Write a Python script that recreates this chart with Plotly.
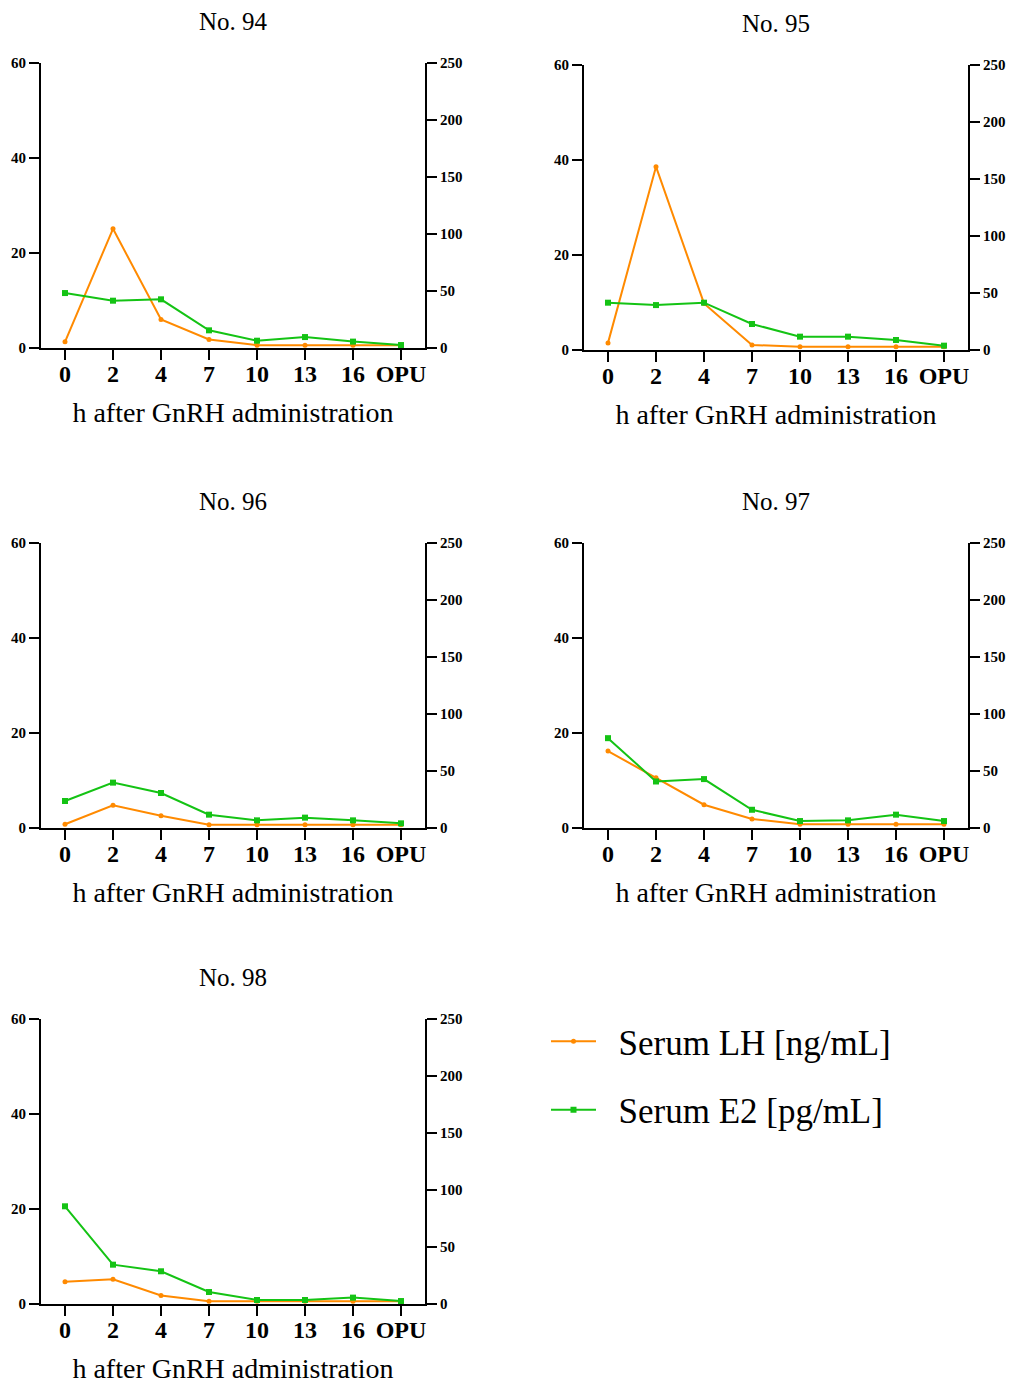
import plotly.graph_objects as go

categories = ["0", "2", "4", "7", "10", "13", "16", "OPU"]
panel_titles = ["No. 94", "No. 95", "No. 96", "No. 97", "No. 98"]

lh_94 = [1.3, 25.1, 6.0, 1.8, 0.6, 0.6, 0.6, 0.6]
e2_94 = [48.2, 41.5, 42.7, 15.5, 6.4, 9.6, 5.6, 2.6]
lh_95 = [1.5, 38.6, 9.8, 1.05, 0.7, 0.7, 0.7, 0.7]
e2_95 = [41.5, 39.4, 41.5, 22.8, 11.7, 11.7, 8.8, 3.8]
lh_96 = [0.8, 4.8, 2.6, 0.7, 0.7, 0.7, 0.7, 0.7]
e2_96 = [23.7, 39.8, 30.7, 11.7, 6.7, 9.1, 6.7, 4.1]
lh_97 = [16.2, 10.6, 4.9, 1.9, 0.8, 0.8, 0.8, 0.8]
e2_97 = [78.8, 40.8, 42.9, 16.0, 6.1, 6.7, 11.7, 6.1]
lh_98 = [4.7, 5.2, 1.8, 0.6, 0.6, 0.6, 0.6, 0.6]
e2_98 = [85.7, 34.5, 28.7, 10.5, 3.5, 3.5, 5.6, 2.6]

lh_sets = [lh_94, lh_95, lh_96, lh_97, lh_98]
e2_sets = [e2_94, e2_95, e2_96, e2_97, e2_98]

lh_ticks = [0, 20, 40, 60]
e2_ticks = [0, 50, 100, 150, 200, 250]

OFF = 8  # page body margin
W, H = 1019 - OFF, 1385 - OFF
ORANGE = "#FF8A00"
GREEN = "#14C314"
FONT = "Liberation Serif"
PAD = "\u00a0\u00a0"


def px_x(p):
    return (p - OFF) / W


def px_y(p):
    return 1 - (p - OFF) / H


# plot-area boxes in reference pixels: (left, right, top, bottom)
boxes = [
    (41, 425, 63, 348),
    (584, 968, 65, 350),
    (41, 425, 543, 828),
    (584, 968, 543, 828),
    (41, 425, 1019, 1304),
]

fig = go.Figure()
layout = dict(
    width=W, height=H,
    margin=dict(l=0, r=0, t=0, b=0, autoexpand=False),
    paper_bgcolor="white", plot_bgcolor="white",
    font=dict(family=FONT, color="black"),
    showlegend=True,
    legend=dict(
        x=px_x(546), y=px_y(1012), xanchor="left", yanchor="top",
        font=dict(family=FONT, size=35, color="black"),
        bgcolor="rgba(0,0,0,0)", tracegroupgap=20, traceorder="grouped",
        itemwidth=45,
    ),
)
annotations = []

for i, (box, lh, e2, title) in enumerate(zip(boxes, lh_sets, e2_sets, panel_titles)):
    l, r, t, b = box
    n = i + 1
    xa = "x" if n == 1 else f"x{n}"
    ya_l = "y" if n == 1 else f"y{n}"
    ya_r = f"y{n + 5}"
    xdom = [px_x(l), px_x(r)]
    ydom = [px_y(b), px_y(t)]

    fig.add_trace(go.Scatter(
        x=categories, y=lh, mode="lines+markers", name=PAD + "Serum LH [ng/mL]",
        line=dict(color=ORANGE, width=2), marker=dict(symbol="circle", size=5, color=ORANGE),
        xaxis=xa, yaxis=ya_l, showlegend=(n == 1), legendgroup="lh",
    ))
    fig.add_trace(go.Scatter(
        x=categories, y=e2, mode="lines+markers", name=PAD + "Serum E2 [pg/mL]",
        line=dict(color=GREEN, width=2), marker=dict(symbol="square", size=6, color=GREEN),
        xaxis=xa, yaxis=ya_r, showlegend=(n == 1), legendgroup="e2",
    ))

    xkey = "xaxis" if n == 1 else f"xaxis{n}"
    layout[xkey] = dict(
        domain=xdom, anchor=ya_l, type="category", categoryorder="array",
        categoryarray=categories, range=[-0.5, 7.5], automargin=False,
        showline=True, linecolor="black", linewidth=2,
        ticks="outside", ticklen=10, tickwidth=2, tickcolor="black",
        ticklabelstandoff=-7,
        showgrid=False, zeroline=False,
        tickfont=dict(family=FONT, size=24, color="black", weight="bold"),
        title=dict(text="h after GnRH administration",
                   font=dict(family=FONT, size=28, color="black"), standoff=17),
    )
    ykey = "yaxis" if n == 1 else f"yaxis{n}"
    layout[ykey] = dict(
        domain=ydom, anchor=xa, range=[0, 60], tickvals=lh_ticks, automargin=False,
        showline=True, linecolor="black", linewidth=2,
        ticks="outside", ticklen=10, tickwidth=2, tickcolor="black",
        showgrid=False, zeroline=False,
        tickfont=dict(family=FONT, size=15, color="black", weight="bold"),
    )
    layout[f"yaxis{n + 5}"] = dict(
        domain=ydom, anchor=xa, overlaying=ya_l, side="right", automargin=False,
        range=[0, 250], tickvals=e2_ticks,
        showline=True, linecolor="black", linewidth=2,
        ticks="outside", ticklen=10, tickwidth=2, tickcolor="black",
        showgrid=False, zeroline=False,
        tickfont=dict(family=FONT, size=15, color="black", weight="bold"),
    )
    annotations.append(dict(
        text=title, xref="paper", yref="paper",
        x=px_x((l + r) / 2), y=px_y(t - 42), xanchor="center", yanchor="middle",
        showarrow=False, font=dict(family=FONT, size=25, color="black"),
    ))

layout["annotations"] = annotations
fig.update_layout(**layout)
fig.write_html("out.html")
